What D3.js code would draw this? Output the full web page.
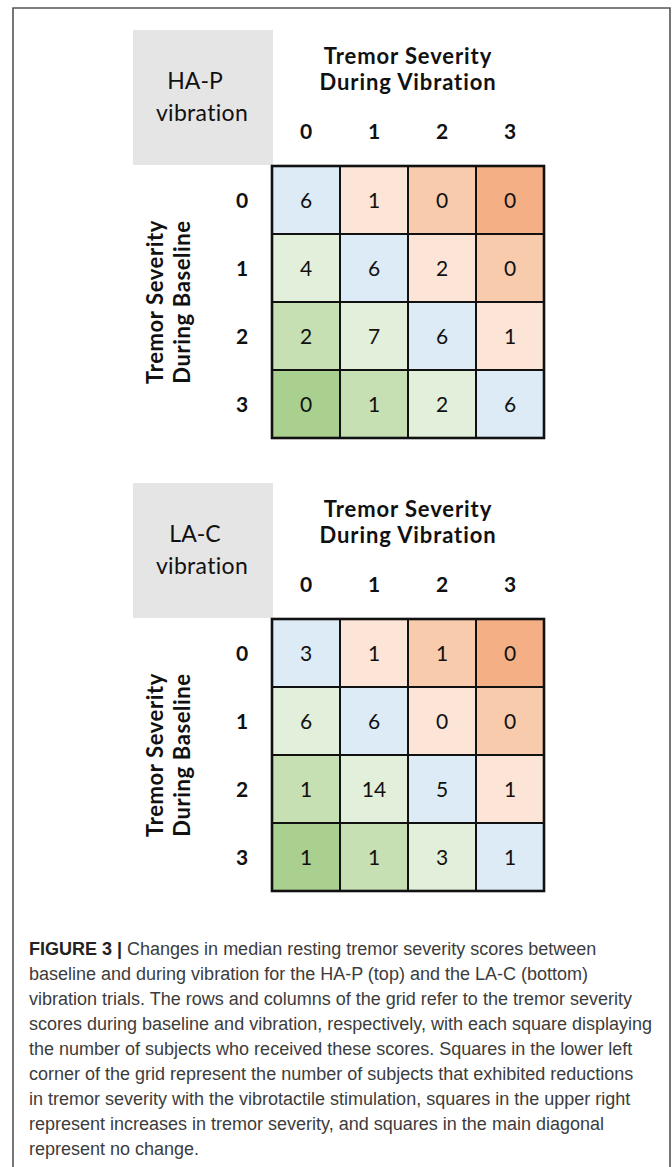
<!DOCTYPE html>
<html>
<head>
  <title>Tremor severity grids</title>
  <script src="https://cdn.jsdelivr.net/npm/d3@7"></script>
  <style>
    body { margin: 0; background: #fff; }
    .grid-text { font-family: Lato, "Open Sans", sans-serif; fill: #111; }
    .caption { font-family: "Liberation Sans", Arial, sans-serif; fill: #3c3c3c; }
  </style>
</head>
<body>
  <svg width="672" height="1167" id="mainsvg"></svg>
  <script>
    // data
    const scores = [0, 1, 2, 3];
    const hapCounts = [[6, 1, 0, 0], [4, 6, 2, 0], [2, 7, 6, 1], [0, 1, 2, 6]];
    const lacCounts = [[3, 1, 1, 0], [6, 6, 0, 0], [1, 14, 5, 1], [1, 1, 3, 1]];
    const panelLabels = ["HA-P", "LA-C"];
    const colTitle = ["Tremor Severity", "During Vibration"];
    const rowTitle = ["Tremor Severity", "During Baseline"];
    const changeSteps = [-3, -2, -1, 0, 1, 2, 3];
    const changeColors = ["#a9d08e", "#c6e0b4", "#e2efda", "#ddebf7", "#fce4d6", "#f8cbad", "#f4b084"];
    const captionLines = [
      "Changes in median resting tremor severity scores between",
      "baseline and during vibration for the HA-P (top) and the LA-C (bottom)",
      "vibration trials. The rows and columns of the grid refer to the tremor severity",
      "scores during baseline and vibration, respectively, with each square displaying",
      "the number of subjects who received these scores. Squares in the lower left",
      "corner of the grid represent the number of subjects that exhibited reductions",
      "in tremor severity with the vibrotactile stimulation, squares in the upper right",
      "represent increases in tremor severity, and squares in the main diagonal",
      "represent no change."
    ];

    const svg = d3.select('svg');
    const width = +svg.attr('width');
    const height = +svg.attr('height');

    // frame (open at the bottom)
    svg.append('path')
      .attr('d', `M13,${height} V8 H670 V${height}`)
      .attr('fill', 'none')
      .attr('stroke', '#555')
      .attr('stroke-width', 1.6);

    const x = d3.scaleBand().domain(scores).range([272, 544]);
    const color = d3.scaleOrdinal().domain(changeSteps).range(changeColors);

    const panels = [
      { label: panelLabels[0], counts: hapCounts, top: 166 },
      { label: panelLabels[1], counts: lacCounts, top: 619 }
    ];

    panels.forEach(p => {
      const y = d3.scaleBand().domain(scores).range([p.top, p.top + 272]);
      const g = svg.append('g');

      // grey label box
      g.append('rect')
        .attr('x', 133).attr('y', p.top - 136)
        .attr('width', 140).attr('height', 135)
        .attr('fill', '#e6e5e6');

      g.append('text').attr('class', 'grid-text')
        .attr('x', 195).attr('y', p.top - 77)
        .attr('text-anchor', 'middle')
        .style('font-size', '23px')
        .text(p.label);
      g.append('text').attr('class', 'grid-text')
        .attr('x', 202).attr('y', p.top - 45)
        .attr('text-anchor', 'middle')
        .style('font-size', '23px')
        .style('letter-spacing', '0.3px')
        .text('vibration');

      // column title
      colTitle.forEach((t, i) => {
        g.append('text').attr('class', 'grid-text')
          .attr('x', (x.range()[0] + x.range()[1]) / 2)
          .attr('y', p.top - 102.5 + i * 26.5)
          .attr('text-anchor', 'middle')
          .style('font-size', '22px')
          .style('letter-spacing', '0.9px')
          .style('font-weight', 'bold')
          .text(t);
      });

      // row title (rotated)
      const cy = (y.range()[0] + y.range()[1]) / 2;
      rowTitle.forEach((t, i) => {
        g.append('text').attr('class', 'grid-text')
          .attr('transform', `translate(${163 + i * 27},${cy}) rotate(-90)`)
          .attr('text-anchor', 'middle')
          .style('font-size', '22px')
          .style('letter-spacing', '0.6px')
          .style('font-weight', 'bold')
          .text(t);
      });

      // column / row score labels
      g.selectAll('.col-label').data(scores).join('text')
        .attr('class', 'grid-text col-label')
        .attr('x', d => x(d) + x.bandwidth() / 2)
        .attr('y', p.top - 27)
        .attr('text-anchor', 'middle')
        .style('font-size', '21px')
        .style('font-weight', 'bold')
        .text(d => d);
      g.selectAll('.row-label').data(scores).join('text')
        .attr('class', 'grid-text row-label')
        .attr('x', 242)
        .attr('y', d => y(d) + y.bandwidth() / 2)
        .attr('dy', '0.36em')
        .attr('text-anchor', 'middle')
        .style('font-size', '21px')
        .style('font-weight', 'bold')
        .text(d => d);

      // cells
      const cells = p.counts.flatMap((row, r) => row.map((v, c) => ({ r, c, v })));
      g.selectAll('.cell').data(cells).join('rect')
        .attr('class', 'cell')
        .attr('x', d => x(d.c)).attr('y', d => y(d.r))
        .attr('width', x.bandwidth()).attr('height', y.bandwidth())
        .attr('fill', d => color(d.c - d.r))
        .attr('stroke', '#111')
        .attr('stroke-width', 2);
      g.selectAll('.cell-text').data(cells).join('text')
        .attr('class', 'grid-text cell-text')
        .attr('x', d => x(d.c) + x.bandwidth() / 2)
        .attr('y', d => y(d.r) + y.bandwidth() / 2)
        .attr('dy', '0.36em')
        .attr('text-anchor', 'middle')
        .style('font-size', '21px')
        .text(d => d.v);

      g.append('rect')
        .attr('x', x.range()[0]).attr('y', y.range()[0])
        .attr('width', x.range()[1] - x.range()[0]).attr('height', y.range()[1] - y.range()[0])
        .attr('fill', 'none')
        .attr('stroke', '#111')
        .attr('stroke-width', 2.6);
    });

    // caption
    const cap = svg.append('g').attr('class', 'caption');
    captionLines.forEach((line, i) => {
      const t = cap.append('text')
        .attr('class', 'caption')
        .attr('x', 29).attr('y', 955 + i * 25)
        .style('font-size', '18px');
      if (i === 0) {
        t.append('tspan').style('font-weight', 'bold').attr('fill', '#222').text('FIGURE 3');
        t.append('tspan').style('font-weight', 'bold').attr('fill', '#222').text(' | ');
      }
      t.append('tspan').text(line);
    });
  </script>
</body>
</html>
